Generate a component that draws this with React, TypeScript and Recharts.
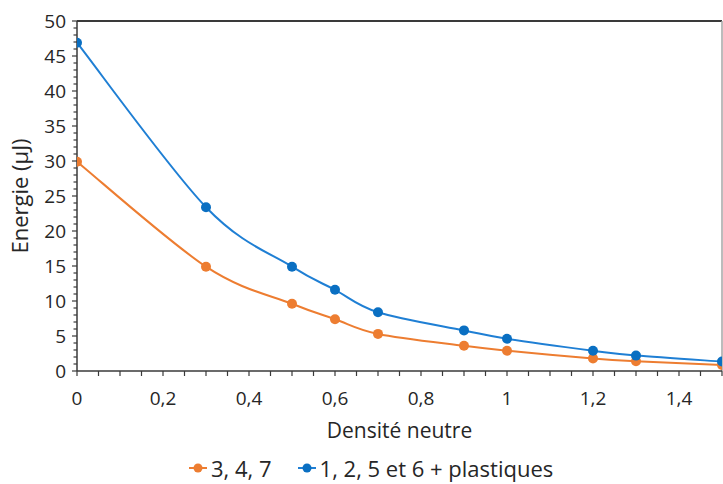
import React from 'react';
import { LineChart, Line, XAxis, YAxis, Legend, ReferenceLine } from 'recharts';

// densité neutre (x) et énergie mesurée (µJ)
const densite = [0, 0.3, 0.5, 0.6, 0.7, 0.9, 1.0, 1.2, 1.3, 1.5];
const energie347 = [29.9, 14.9, 9.6, 7.4, 5.3, 3.6, 2.9, 1.8, 1.4, 0.85];
const energiePlastiques = [46.9, 23.4, 14.9, 11.6, 8.4, 5.8, 4.6, 2.9, 2.2, 1.35];

const serieNoms = ['3, 4, 7', '1, 2, 5 et 6 + plastiques'];
const xMajorTicks = [0, 0.2, 0.4, 0.6, 0.8, 1, 1.2, 1.4];
const yMajorTicks = [0, 5, 10, 15, 20, 25, 30, 35, 40, 45, 50];

// graduations secondaires : tous les 0,05 en x, tous les 1 en y
const xTicks = Array.from({ length: 31 }, (_, i) => Math.round(i * 5) / 100);
const yTicks = Array.from({ length: 51 }, (_, i) => i);

const data = densite.map((d, i) => ({
  densite: d,
  a: energie347[i],
  b: energiePlastiques[i],
}));

const ORANGE = '#ED7D31';
const BLUE = '#1F7FD4';
const BLUE_DOT = '#0A6FC2';
const AXIS = '#3a3a3a';
const TEXT = '#262626';
const FONT = '"Open Sans", sans-serif';

// lissage façon Excel (Catmull-Rom en béziers)
const smoothCurve = (context: any) => {
  let pts: number[][] = [];
  return {
    areaStart() {},
    areaEnd() {},
    lineStart() {
      pts = [];
    },
    point(x: number, y: number) {
      pts.push([+x, +y]);
    },
    lineEnd() {
      if (!pts.length) return;
      context.moveTo(pts[0][0], pts[0][1]);
      for (let i = 0; i < pts.length - 1; i++) {
        const p0 = pts[i - 1] || pts[i];
        const p1 = pts[i];
        const p2 = pts[i + 1];
        const p3 = pts[i + 2] || p2;
        const t = 1 / 6;
        context.bezierCurveTo(
          p1[0] + (p2[0] - p0[0]) * t,
          p1[1] + (p2[1] - p0[1]) * t,
          p2[0] - (p3[0] - p1[0]) * t,
          p2[1] - (p3[1] - p1[1]) * t,
          p2[0],
          p2[1]
        );
      }
    },
  };
};

const isMajorX = (v: number) => xMajorTicks.some((m) => Math.abs(m - v) < 1e-6);

const XTick = ({ x, y, payload }: any) => {
  const v = payload.value;
  return (
    <g>
      <line x1={x} x2={x} y1={y} y2={y + 5} stroke={AXIS} strokeWidth={1.2} />
      {isMajorX(v) && (
        <text x={x} y={y + 34} textAnchor="middle" fontSize={19} fontFamily={FONT} fill={TEXT}>
          {String(v).replace('.', ',')}
        </text>
      )}
    </g>
  );
};

const YTick = ({ x, y, payload }: any) => {
  const v = payload.value;
  const major = yMajorTicks.includes(v);
  return (
    <g>
      <line x1={x - (major ? 5 : 3.5)} x2={x} y1={y} y2={y} stroke={AXIS} strokeWidth={1.2} />
      {major && (
        <text x={x - 11} y={y + 7} textAnchor="end" fontSize={19} fontFamily={FONT} fill={TEXT}>
          {v}
        </text>
      )}
    </g>
  );
};

const LegendContent = ({ payload }: any) => {
  const items = [...(payload || [])].sort(
    (p: any, q: any) => serieNoms.indexOf(p.value) - serieNoms.indexOf(q.value)
  );
  return (
    <div style={{ display: 'flex', alignItems: 'center', paddingLeft: 189, fontFamily: FONT, fontSize: 22, color: TEXT }}>
      {items.map((entry: any, i: number) => (
        <div key={i} style={{ display: 'flex', alignItems: 'center', marginRight: 26 }}>
          <svg width={18} height={12} style={{ marginRight: 4 }}>
            <line x1={0} x2={18} y1={6} y2={6} stroke={entry.color} strokeWidth={2} />
            <circle cx={9} cy={6} r={4.5} fill={entry.value === serieNoms[1] ? BLUE_DOT : ORANGE} />
          </svg>
          <span>{entry.value}</span>
        </div>
      ))}
    </div>
  );
};

export default function App() {
  return (
    <div style={{ position: 'absolute', left: 0, top: 0, width: 723, height: 484, background: '#fff' }}>
      <LineChart width={723} height={484} data={data} margin={{ top: 21, right: 1, left: 0, bottom: 0 }}>
        <XAxis
          dataKey="densite"
          type="number"
          domain={[0, 1.5]}
          ticks={xTicks}
          interval={0}
          tickSize={0}
          tickMargin={0}
          tick={<XTick />}
          height={113}
          axisLine={{ stroke: AXIS, strokeWidth: 1.5 }}
          allowDataOverflow
          label={{ value: 'Densité neutre', position: 'center', dy: 3, style: { fontSize: 21, fontFamily: FONT, fill: TEXT } }}
        />
        <YAxis
          type="number"
          domain={[0, 50]}
          ticks={yTicks}
          interval={0}
          tickSize={0}
          tickMargin={0}
          tick={<YTick />}
          width={77}
          axisLine={{ stroke: AXIS, strokeWidth: 1.5 }}
          label={{ value: 'Energie (µJ)', angle: -90, position: 'center', dx: -18, style: { fontSize: 22, fontFamily: FONT, fill: TEXT } }}
        />
        <ReferenceLine y={50} stroke={AXIS} strokeWidth={1.8} />
        <ReferenceLine x={1.5} stroke="#A6A6A6" strokeWidth={1.5} />
        <Legend
          layout="horizontal"
          verticalAlign="middle"
          align="center"
          wrapperStyle={{ top: 453, left: 0, width: 723 }}
          content={<LegendContent />}
        />
        <Line
          name={serieNoms[0]}
          dataKey="a"
          type={smoothCurve as any}
          stroke={ORANGE}
          strokeWidth={2}
          dot={{ r: 5, fill: ORANGE, stroke: 'none' }}
          isAnimationActive={false}
        />
        <Line
          name={serieNoms[1]}
          dataKey="b"
          type={smoothCurve as any}
          stroke={BLUE}
          strokeWidth={2}
          dot={{ r: 5, fill: BLUE_DOT, stroke: 'none' }}
          isAnimationActive={false}
        />
      </LineChart>
    </div>
  );
}
